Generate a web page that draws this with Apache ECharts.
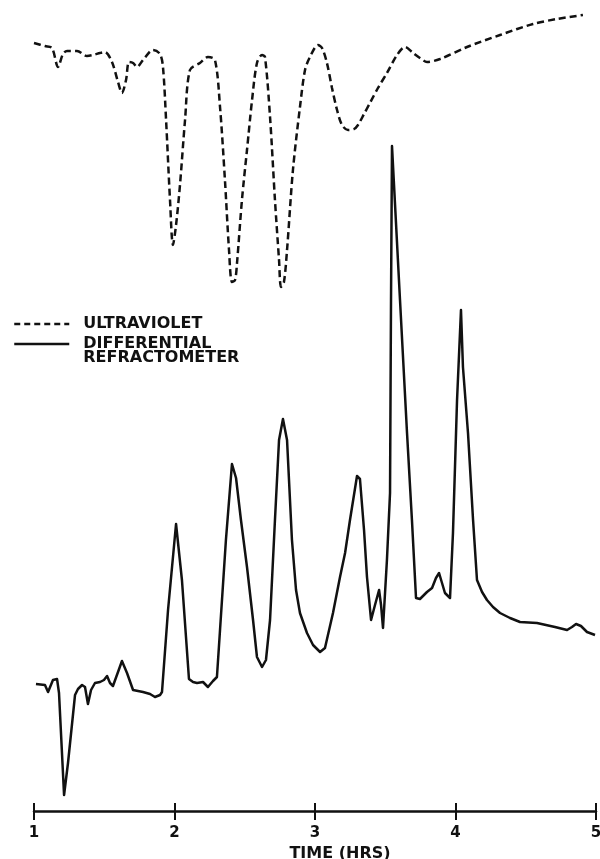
<!DOCTYPE html>
<html>
<head>
<meta charset="utf-8">
<script src="https://cdn.jsdelivr.net/npm/echarts@6/dist/echarts.min.js"></script>
<style>
html,body{margin:0;padding:0;background:#fff;}
#chart{width:600px;height:859px;}
</style>
</head>
<body>
<div id="chart"></div>
<script>
// Time (hours) and detector response (arbitrary units)
var xTicks = ['1', '2', '3', '4', '5'];
var xTitle = 'TIME (HRS)';
var uvName = 'ULTRAVIOLET';
var drName = 'DIFFERENTIAL\nREFRACTOMETER';

var uvTime = [1.00,1.078,1.128,1.171,1.206,1.235,1.306,1.377,1.420,1.470,1.505,1.555,1.598,1.626,1.655,1.676,1.705,1.733,1.776,1.847,1.897,1.918,1.940,1.968,1.989,2.011,2.039,2.075,2.110,2.181,2.238,2.288,2.324,2.359,2.388,2.409,2.431,2.445,2.480,2.516,2.552,2.587,2.623,2.644,2.680,2.715,2.744,2.758,2.779,2.801,2.843,2.893,2.929,2.964,3.021,3.050,3.085,3.121,3.157,3.192,3.235,3.278,3.306,3.349,3.391,3.448,3.512,3.584,3.641,3.698,3.747,3.797,3.890,4.082,4.317,4.552,4.722,4.907];
var uvSignal = [76.8,76.5,76.3,74.4,75.7,76.0,76.0,75.5,75.6,75.8,75.9,74.9,72.9,71.8,73.1,74.9,74.8,74.4,75.1,76.1,75.7,74.4,69.1,61.1,56.6,58.6,62.6,69.1,74.1,74.8,75.4,75.1,70.4,63.1,56.1,52.9,53.1,54.8,61.1,66.1,71.1,74.8,75.6,75.4,69.4,61.1,55.1,52.4,52.9,56.1,64.1,70.4,74.1,75.4,76.6,76.3,74.8,72.3,70.1,68.6,68.1,68.2,68.6,69.7,70.8,72.3,73.8,75.6,76.4,75.8,75.3,74.9,75.2,76.4,77.6,78.7,79.2,79.6];

var drTime = [1.014,1.078,1.100,1.135,1.164,1.178,1.214,1.242,1.292,1.313,1.342,1.363,1.384,1.406,1.434,1.470,1.498,1.520,1.541,1.562,1.598,1.626,1.662,1.705,1.776,1.826,1.861,1.897,1.911,1.954,2.011,2.053,2.103,2.132,2.160,2.203,2.238,2.274,2.302,2.324,2.366,2.409,2.438,2.473,2.516,2.559,2.587,2.623,2.651,2.680,2.715,2.744,2.772,2.801,2.836,2.865,2.893,2.943,2.986,3.036,3.071,3.128,3.178,3.214,3.249,3.299,3.320,3.349,3.370,3.399,3.427,3.456,3.470,3.484,3.512,3.534,3.541,3.548,3.562,3.605,3.655,3.690,3.719,3.747,3.797,3.833,3.861,3.883,3.904,3.925,3.961,3.982,4.011,4.039,4.053,4.089,4.125,4.153,4.189,4.224,4.267,4.317,4.388,4.459,4.580,4.708,4.794,4.829,4.858,4.893,4.936,4.993];
var drSignal = [12.7,12.6,11.9,13.1,13.2,11.8,1.6,4.8,11.6,12.2,12.6,12.4,10.7,12.1,12.8,12.9,13.1,13.5,12.8,12.5,13.9,15.0,13.8,12.1,11.9,11.7,11.4,11.6,11.9,20.1,28.7,23.1,13.2,12.9,12.8,12.9,12.4,13.0,13.4,18.1,27.1,34.7,33.3,29.1,24.4,19.1,15.4,14.4,15.1,19.1,29.1,37.1,39.2,37.1,27.1,22.1,19.8,17.8,16.6,15.9,16.3,19.8,23.4,25.8,29.1,33.5,33.2,28.1,23.4,19.1,20.6,22.1,20.6,18.3,25.1,31.8,51.1,66.5,66.3,51.1,37.8,29.1,21.3,21.2,21.9,22.3,23.3,23.8,22.8,21.8,21.3,27.8,41.1,50.1,44.4,37.8,29.1,23.1,21.9,21.1,20.4,19.8,19.3,18.9,18.8,18.4,18.1,18.4,18.7,18.5,17.9,17.6];

function pairs(xs, ys) { return xs.map(function (x, i) { return [x, ys[i]]; }); }

var FONT = 'DejaVu Sans';
var INK = '#111';
var hideSymbol = {color: 'rgba(0,0,0,0)', borderColor: 'rgba(0,0,0,0)', borderWidth: 0};
var lgFont = {color: INK, fontFamily: FONT, fontWeight: 'bold', fontSize: 16};

var chart = echarts.init(document.getElementById('chart'), null, {renderer: 'canvas'});
chart.setOption({
  animation: false,
  backgroundColor: '#fff',
  grid: {left: 34, right: 4, top: 11, bottom: 48, containLabel: false, outerBoundsMode: 'none'},
  legend: [
    {
      data: [{name: uvName}],
      orient: 'vertical', left: 13, top: 316, padding: 0,
      itemWidth: 55, itemHeight: 14, selectedMode: false,
      itemStyle: hideSymbol,
      lineStyle: {width: 2.5, type: [6, 4]},
      textStyle: Object.assign({lineHeight: 14, padding: [0, 0, 0, 9]}, lgFont)
    },
    {
      data: [{name: drName}],
      orient: 'vertical', left: 13, top: 336, padding: 0,
      itemWidth: 55, itemHeight: 14, selectedMode: false,
      itemStyle: hideSymbol,
      lineStyle: {width: 2.5},
      formatter: function (name) {
        var p = name.split('\n');
        return '{a|' + p[0] + '}\n{b|' + p[1] + '}';
      },
      textStyle: Object.assign({padding: [0, 0, 0, 9], rich: {
        a: Object.assign({lineHeight: 42, height: 14, verticalAlign: 'bottom'}, lgFont),
        b: Object.assign({lineHeight: 28, height: 14, verticalAlign: 'top'}, lgFont)
      }}, lgFont)
    }
  ],
  xAxis: [
    {
      type: 'value', min: 1, max: 5, interval: 1, position: 'bottom',
      axisLine: {show: true, lineStyle: {color: INK, width: 2.5}},
      axisTick: {show: true, inside: false, length: 9, lineStyle: {color: INK, width: 2}},
      axisLabel: {show: true, margin: 15, color: INK, fontFamily: FONT, fontWeight: 'bold', fontSize: 15,
        formatter: function (v) { return xTicks[Math.round(v) - 1]; }},
      splitLine: {show: false},
      name: xTitle, nameLocation: 'middle', nameGap: 31,
      nameTextStyle: {color: INK, fontFamily: FONT, fontWeight: 'bold', fontSize: 16, padding: [0, 0, 0, 50]}
    },
    {
      type: 'value', min: 1, max: 5, interval: 1, position: 'bottom',
      axisLine: {show: false},
      axisTick: {show: true, inside: true, length: 8, lineStyle: {color: INK, width: 2}},
      axisLabel: {show: false},
      splitLine: {show: false}
    }
  ],
  yAxis: {type: 'value', min: 0, max: 80, show: false},
  series: [
    {
      name: uvName, type: 'line', xAxisIndex: 0, data: pairs(uvTime, uvSignal),
      symbol: 'none', smooth: 0.3,
      lineStyle: {color: INK, width: 2.5, type: [7, 4]},
      itemStyle: {color: INK}
    },
    {
      name: drName, type: 'line', xAxisIndex: 0, data: pairs(drTime, drSignal),
      symbol: 'none', smooth: false,
      lineStyle: {color: INK, width: 2.5, type: 'solid', join: 'round'},
      itemStyle: {color: INK}
    }
  ]
});
</script>
</body>
</html>
